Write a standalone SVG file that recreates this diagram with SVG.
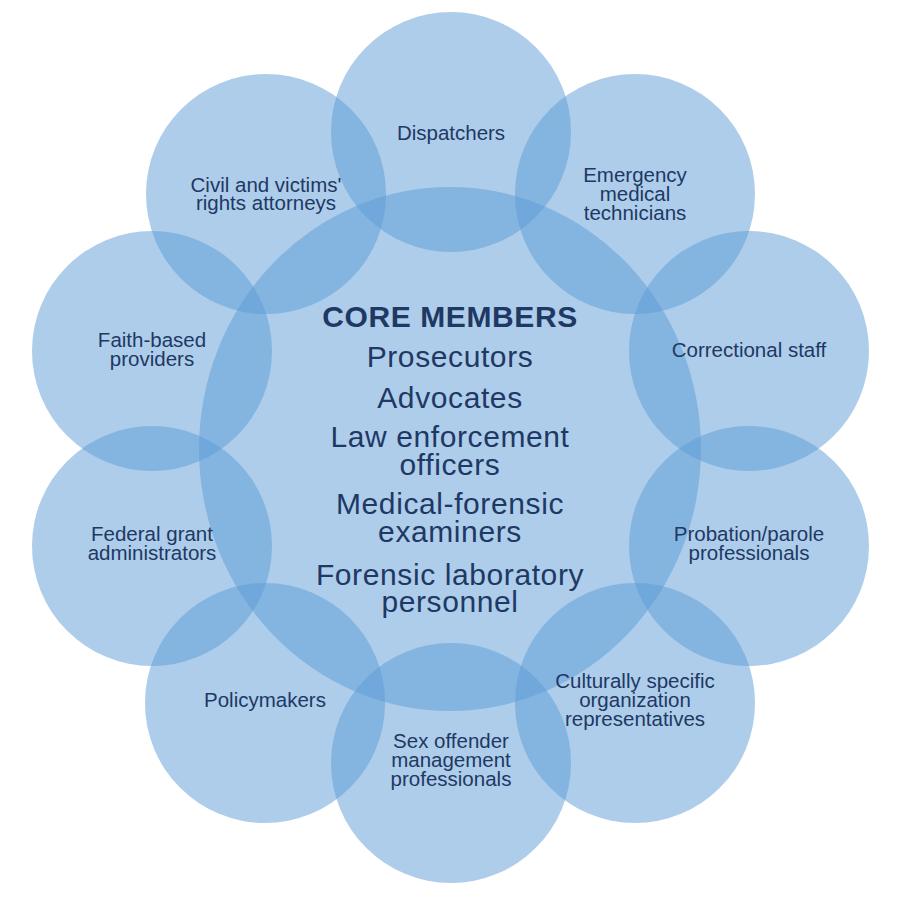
<svg xmlns="http://www.w3.org/2000/svg" width="900" height="897" viewBox="0 0 900 897">
<style>
.c{fill:#5b9bd5;fill-opacity:0.5;stroke:none}
.t{font-family:"Liberation Sans",Arial,Helvetica,sans-serif;font-size:20.5px;fill:#1f3864;text-anchor:middle}
.m{font-family:"Liberation Sans",Arial,Helvetica,sans-serif;font-size:30px;fill:#1f3864;text-anchor:middle;letter-spacing:0.6px}
.b{font-weight:bold}
</style>
<rect width="900" height="897" fill="#ffffff"/>
<g id="core">
<ellipse class="c" cx="450" cy="449" rx="251" ry="262"/>
<text class="m b" x="450" y="327">CORE MEMBERS</text>
<text class="m" x="450" y="367">Prosecutors</text>
<text class="m" x="450" y="408">Advocates</text>
<text class="m" x="450" y="447">Law enforcement</text>
<text class="m" x="450" y="475">officers</text>
<text class="m" x="450" y="514">Medical-forensic</text>
<text class="m" x="450" y="542">examiners</text>
<text class="m" x="450" y="585">Forensic laboratory</text>
<text class="m" x="450" y="612">personnel</text>
</g>
<g id="dispatchers">
<circle class="c" cx="451" cy="132" r="120"/>
<text class="t" x="451" y="140">Dispatchers</text>
</g>
<g id="emt">
<circle class="c" cx="635" cy="194" r="120"/>
<text class="t" x="635" y="182">Emergency</text>
<text class="t" x="635" y="201">medical</text>
<text class="t" x="635" y="220">technicians</text>
</g>
<g id="correctional">
<circle class="c" cx="749" cy="351" r="120"/>
<text class="t" x="749" y="357">Correctional staff</text>
</g>
<g id="probation">
<circle class="c" cx="749" cy="546" r="120"/>
<text class="t" x="749" y="541">Probation/parole</text>
<text class="t" x="749" y="560">professionals</text>
</g>
<g id="cultural">
<circle class="c" cx="635" cy="703" r="120"/>
<text class="t" x="635" y="688">Culturally specific</text>
<text class="t" x="635" y="707">organization</text>
<text class="t" x="635" y="726">representatives</text>
</g>
<g id="sexoffender">
<circle class="c" cx="451" cy="763" r="120"/>
<text class="t" x="451" y="748">Sex offender</text>
<text class="t" x="451" y="767">management</text>
<text class="t" x="451" y="786">professionals</text>
</g>
<g id="policymakers">
<circle class="c" cx="265" cy="703" r="120"/>
<text class="t" x="265" y="707">Policymakers</text>
</g>
<g id="federal">
<circle class="c" cx="152" cy="546" r="120"/>
<text class="t" x="152" y="541">Federal grant</text>
<text class="t" x="152" y="560">administrators</text>
</g>
<g id="faith">
<circle class="c" cx="152" cy="351" r="120"/>
<text class="t" x="152" y="347">Faith-based</text>
<text class="t" x="152" y="366">providers</text>
</g>
<g id="civil">
<circle class="c" cx="266" cy="194" r="120"/>
<text class="t" x="266" y="192">Civil and victims'</text>
<text class="t" x="266" y="210">rights attorneys</text>
</g>
<g id="connectors"/>
</svg>
